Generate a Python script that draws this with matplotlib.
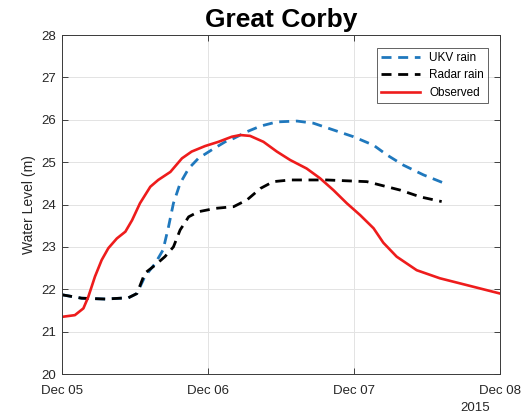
import numpy as np
import matplotlib
matplotlib.use("Agg")
import matplotlib.pyplot as plt
import matplotlib.dates as mdates
from datetime import datetime, timedelta

plt.rcParams['font.family'] = ['Liberation Sans', 'DejaVu Sans']

start = datetime(2015, 12, 5)

# hours since Dec 05 00:00, water level in metres
obs_hours = [0, 2.1, 3.5, 4.3, 5.4, 6.5, 7.6, 9.0, 10.4, 11.5, 12.8, 14.5,
             15.8, 17.8, 19.7, 21.3, 23.5, 25.7, 27.9, 29.3, 30.9, 33.1, 35.3,
             37.5, 40.2, 42.4, 44.6, 46.8, 49.0, 51.2, 52.8, 55.0, 58.3, 62.1,
             65.4, 68.7, 72.0]
obs_level = [21.35, 21.39, 21.55, 21.82, 22.30, 22.69, 22.97, 23.20, 23.36,
             23.63, 24.03, 24.42, 24.58, 24.77, 25.09, 25.25, 25.38, 25.48,
             25.60, 25.64, 25.62, 25.48, 25.25, 25.05, 24.85, 24.62, 24.34,
             24.03, 23.75, 23.44, 23.10, 22.77, 22.45, 22.26, 22.14, 22.02,
             21.90]

radar_hours = [0, 3.2, 7.1, 10.9, 12.3, 13.6, 15.3, 16.9, 18.3, 19.4, 20.8,
               22.4, 25.2, 28.2, 30.4, 32.6, 34.7, 37.5, 43.5, 50.1, 52.3,
               55.6, 58.9, 62.4]
radar_level = [21.87, 21.79, 21.77, 21.80, 21.90, 22.38, 22.57, 22.77, 23.00,
               23.40, 23.71, 23.83, 23.91, 23.95, 24.11, 24.38, 24.54, 24.58,
               24.58, 24.54, 24.46, 24.34, 24.18, 24.07]

ukv_hours = [0, 3.2, 7.1, 10.9, 12.3, 13.6, 15.3, 16.6, 17.5, 18.3, 19.4, 20.8,
             22.4, 24.6, 26.8, 28.2, 30.4, 32.6, 35.3, 38.6, 41.3, 44.6, 47.9,
             51.2, 53.4, 56.1, 59.4, 62.7]
ukv_level = [21.87, 21.79, 21.77, 21.80, 21.90, 22.30, 22.61, 22.93, 23.48,
             24.03, 24.50, 24.85, 25.09, 25.29, 25.48, 25.56, 25.72, 25.85,
             25.95, 25.97, 25.92, 25.76, 25.60, 25.40, 25.17, 24.93, 24.70,
             24.51]


def to_dates(hours):
    return [start + timedelta(hours=h) for h in hours]


fig = plt.figure(figsize=(5.22, 4.17), dpi=100)
ax = fig.add_axes([0.119, 0.103, 0.839, 0.813])

dash = (3.6, 2.4)
ax.plot(to_dates(ukv_hours), ukv_level, color='#1f78bd', lw=2.0,
        dashes=dash, label='UKV rain')
ax.plot(to_dates(radar_hours), radar_level, color='black', lw=2.0,
        dashes=dash, label='Radar rain')
ax.plot(to_dates(obs_hours), obs_level, color='#ee1c1c', lw=1.9,
        label='Observed')

ax.set_xlim(start, start + timedelta(days=3))
ax.set_ylim(20, 28)
ax.xaxis.set_major_locator(mdates.DayLocator())
ax.xaxis.set_major_formatter(mdates.DateFormatter('%b %d'))
ax.set_yticks(range(20, 29))

grey = '#262626'
ax.tick_params(direction='in', length=4, width=0.6, colors=grey,
               labelsize=9.5, top=True, right=True)
ax.tick_params(axis='x', pad=8)
ax.tick_params(axis='y', pad=4)
for sp in ax.spines.values():
    sp.set_color('#3a3a3a')
    sp.set_linewidth(0.7)
ax.grid(True, color='#e3e3e3', lw=0.7)
ax.set_axisbelow(True)

ax.set_ylabel('Water Level (m)', fontsize=10, color=grey, labelpad=4)
ax.set_title('Great Corby', fontsize=19, fontweight='bold', pad=6)
ax.text(0.943, -0.1, '2015', transform=ax.transAxes, ha='center',
        va='center', fontsize=9.5, color=grey)

leg = ax.legend(loc='upper right', bbox_to_anchor=(0.973, 0.962), fontsize=8.5,
                frameon=True, fancybox=False, edgecolor='#3a3a3a',
                handlelength=3.3, borderpad=0.35, labelspacing=0.45,
                handletextpad=0.8, borderaxespad=0.0)
leg.get_frame().set_linewidth(0.7)

fig.savefig('out.png', dpi=100)
